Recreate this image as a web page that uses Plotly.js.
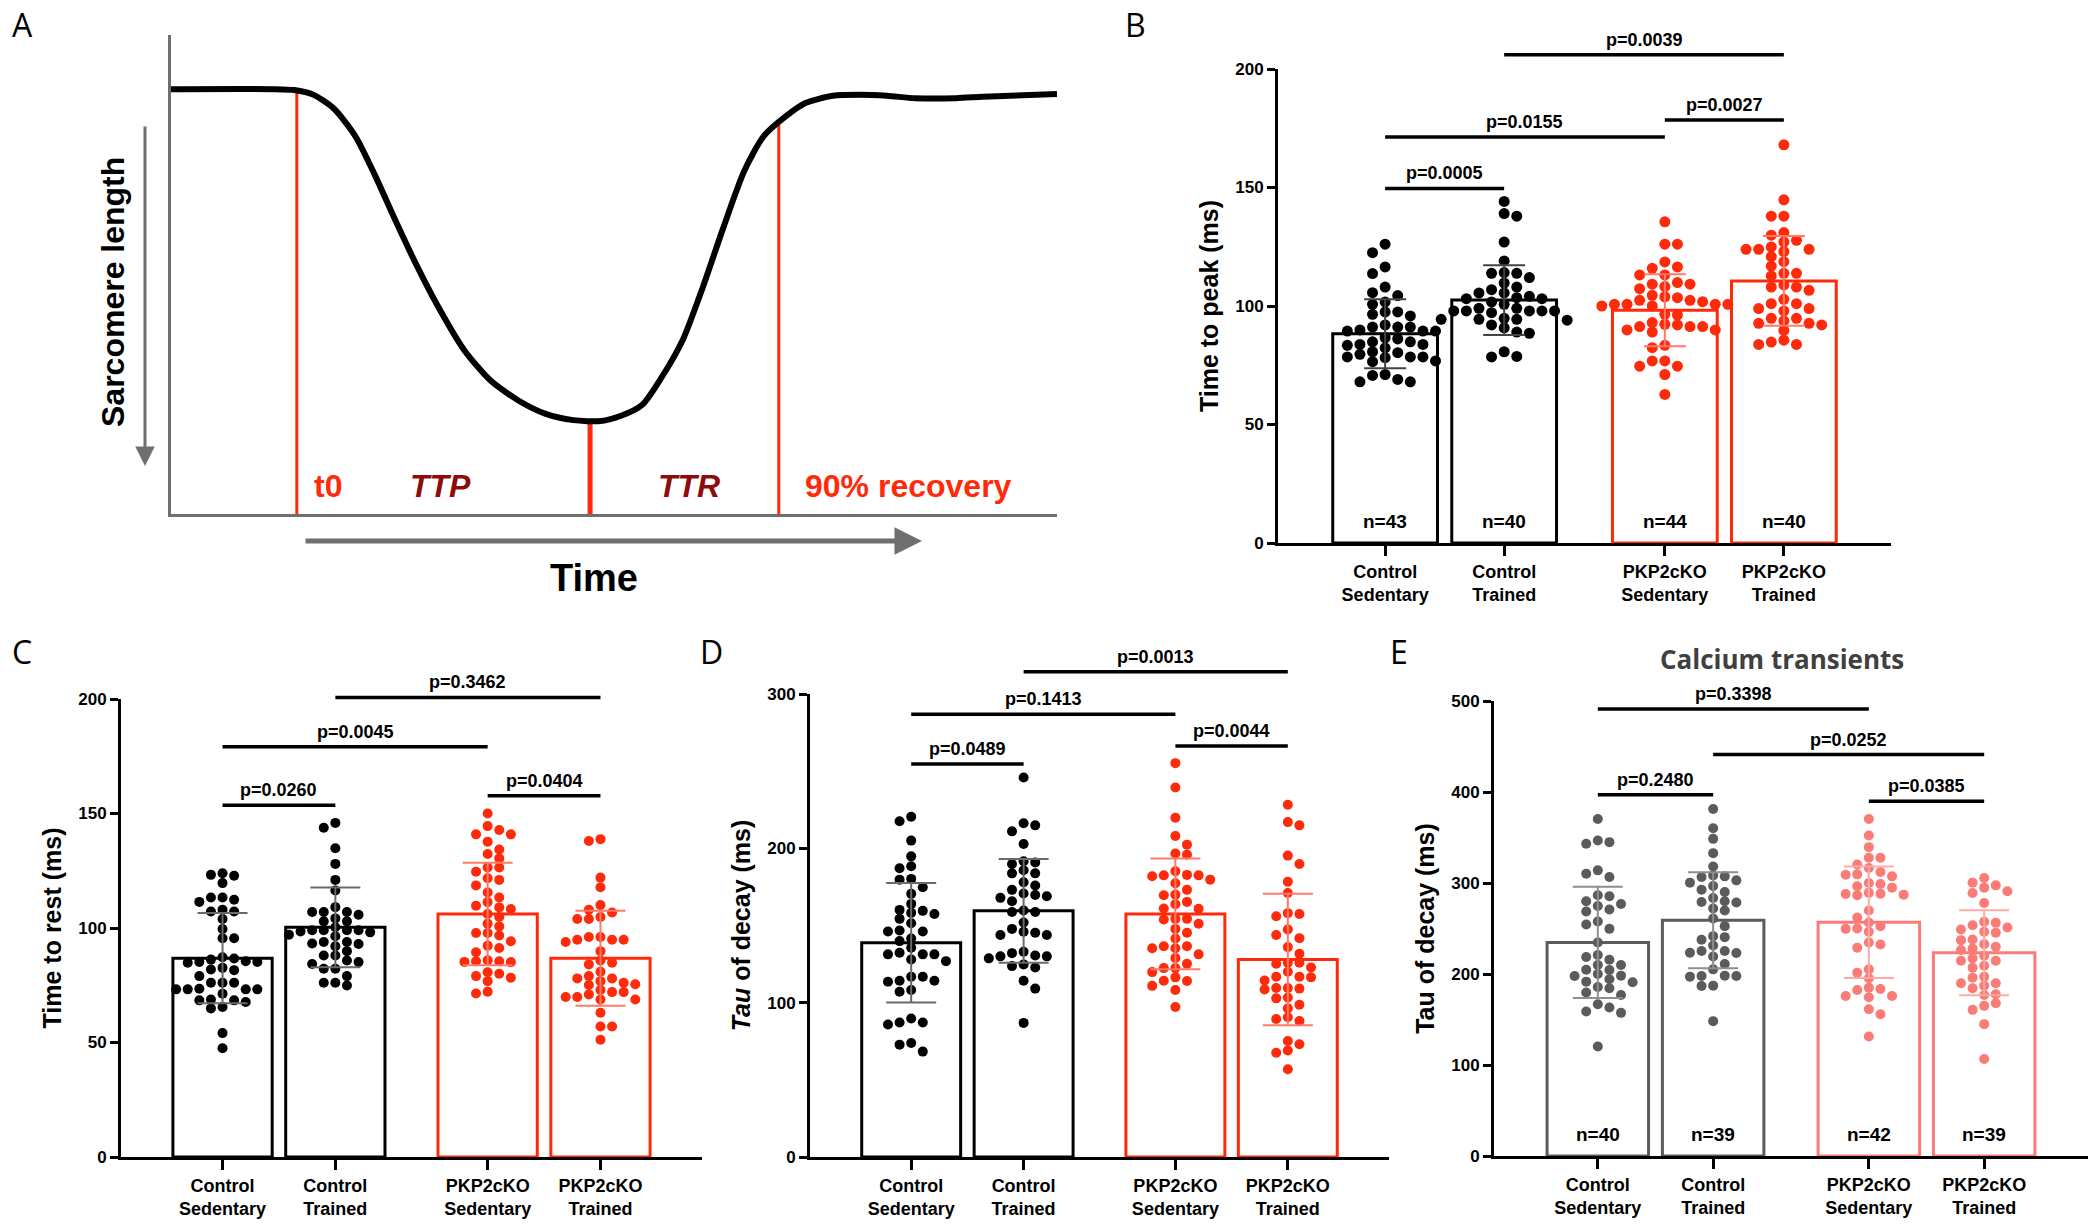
<!DOCTYPE html>
<html><head><meta charset="utf-8">
<script src="https://cdn.plot.ly/plotly-3.0.1.min.js"></script>
<style>html,body{margin:0;padding:0;background:#fff;} #chart{width:2100px;height:1228px;}</style>
</head><body><div id="chart"></div>
<script>
// ================= DATA =================
const groupLabels = ['Control<br>Sedentary', 'Control<br>Trained', 'PKP2cKO<br>Sedentary', 'PKP2cKO<br>Trained'];
const groupPos = [0, 1, 2.35, 3.35];

// Panel A: schematic sarcomere-length trace (time %, length %)
const traceTime   = [0, 11.5, 13.9, 16.1, 18.4, 20.8, 23.0, 25.4, 27.7, 30.0, 33.1, 36.1, 39.3, 42.3, 45.4, 48.5, 50.8, 53.2, 55.4, 57.8, 60.0, 62.4, 64.7, 66.9, 69.3, 71.6, 74.7, 77.8, 80.8, 84.0, 88.6, 91.6, 94.7, 100];
const traceLength = [88.7, 88.7, 88.5, 87.5, 84.6, 78.9, 70.8, 61.0, 52.0, 43.8, 34.2, 27.8, 23.6, 20.9, 19.6, 19.4, 20.5, 22.8, 28.6, 36.5, 47.2, 60.1, 71.6, 78.9, 82.9, 85.8, 87.3, 87.5, 87.3, 86.8, 86.8, 87.1, 87.3, 87.7];
const eventTime = [14.2, 47.3, 68.6];
const eventTop  = [88.3, 19.4, 81.2];
const phaseLabels = ['t0', 'TTP', 'TTR', '90% recovery'];
const phaseTime   = [17.7, 30.4, 58.5, 83.2];

// Panel B: Time to peak (ms)
const ttpCtrlSed = [126.1,122.5,116.5,113.7,108.0,105.6,104.4,101.7,100.7,97.5,97.5,95.8,96.5,92.0,91.1,91.1,91.1,89.9,89.4,89.4,89.4,86.1,86.6,84.9,84.9,83.4,83.8,83.8,82.3,80.7,80.3,78.5,78.5,78.5,78.2,79.6,76.8,76.5,71.1,68.0,69.0,70.7,68.0];
const ttpCtrlTr  = [144.1,139.0,137.9,127.0,119.0,113.8,114.1,113.8,112.0,109.7,108.0,106.9,105.5,105.5,104.1,103.1,103.1,103.5,101.7,100.7,97.9,97.9,99.0,97.2,99.0,97.9,97.9,97.9,94.0,94.8,92.0,90.8,94.4,94.4,94.4,88.5,89.0,78.7,80.7,78.5];
const ttpKoSed   = [135.5,126.1,126.1,118.6,116.5,115.9,113.1,113.1,109.2,109.9,109.2,108.2,107.3,104.5,103.5,103.9,101.8,100.7,100.7,102.4,100.7,100.7,102.4,100.0,100.0,96.5,96.2,92.3,89.9,89.9,91.3,91.3,91.3,89.0,93.0,92.0,82.4,83.4,76.8,74.6,74.6,76.8,71.1,62.7];
const ttpKoTr    = [168.0,144.8,137.9,137.9,129.9,131.0,127.7,127.0,124.9,123.0,123.9,123.9,123.9,120.8,118.7,116.8,113.8,113.8,112.7,108.0,108.9,108.0,106.6,102.8,98.9,101.0,101.0,97.9,98.9,92.7,94.8,94.8,92.0,92.7,93.7,89.7,83.8,85.6,83.8,84.8];
const ttpMean = [88.3, 102.5, 98.2, 110.6];
const ttpSD   = [14.6, 14.7, 15.2, 18.9];
const ttpSigFrom = [0, 0, 2, 1];
const ttpSigTo   = [1, 2, 3, 3];
const ttpSigY    = [149.6, 171.3, 178.5, 206.0];
const ttpSigText = ['p=0.0005', 'p=0.0155', 'p=0.0027', 'p=0.0039'];

// Panel C: Time to rest (ms)
const ttrCtrlSed = [123.2,123.9,122.8,119.6,113.3,112.3,111.4,113.3,107.2,108.0,107.2,103.9,99.6,95.5,95.5,85.5,86.2,87.2,85.2,85.2,86.7,84.8,79.0,81.9,81.6,82.6,76.1,76.1,76.1,73.2,73.5,71.3,73.2,73.2,73.2,68.4,65.5,67.7,64.9,68.8,68.4,54.1,47.5];
const ttrCtrlTr  = [143.8,145.9,134.8,128.0,121.0,116.4,105.8,104.2,107.0,107.0,109.1,107.0,102.9,102.9,97.1,99.0,100.3,99.0,99.0,99.0,96.4,98.1,89.9,92.0,93.9,93.2,93.9,88.0,88.0,84.3,82.2,79.0,82.2,85.1,85.8,74.9,76.1,76.1,98.5,93.0];
const ttrKoSed   = [150.0,142.8,140.9,140.9,144.5,137.7,134.3,130.4,132.3,126.4,124.6,126.4,121.0,118.6,121.7,115.5,111.3,113.3,109.7,108.3,109.0,106.1,104.8,101.9,100.7,97.8,97.8,96.7,92.3,94.2,91.3,89.4,85.9,85.2,85.1,85.5,85.5,80.7,78.3,79.0,76.8,80.0,71.4,72.2];
const ttrKoTr    = [138.8,138.0,122.0,117.8,110.0,106.8,108.0,104.8,103.9,103.9,96.1,94.9,94.9,93.9,96.1,94.9,89.9,84.8,85.8,84.1,76.8,79.0,80.9,78.0,78.0,72.9,75.1,72.0,75.4,76.1,72.0,68.8,69.9,69.9,68.8,71.0,63.0,57.0,57.0,51.2];
const ttrMean = [86.8, 100.3, 106.1, 86.8];
const ttrSD   = [19.7, 17.4, 22.4, 20.7];
const ttrSigFrom = [0, 0, 2, 1];
const ttrSigTo   = [1, 2, 3, 3];
const ttrSigY    = [153.6, 179.1, 157.8, 200.7];
const ttrSigText = ['p=0.0260', 'p=0.0045', 'p=0.0404', 'p=0.3462'];

// Panel D: Tau of decay (ms), sarcomere
const tauCtrlSed = [217.5,220.5,205.0,194.8,188.4,187.1,180.2,179.7,174.8,170.5,164.0,159.5,160.1,157.5,158.2,151.5,154.3,146.8,146.1,146.1,139.9,141.6,131.3,132.3,135.6,131.3,131.3,126.9,128.0,114.2,114.2,116.8,116.8,113.6,107.1,108.2,89.7,87.1,85.8,87.1,73.9,72.8,68.3];
const tauCtrlTr  = [245.9,216.2,214.9,211.0,202.8,189.9,191.6,185.8,190.9,183.8,183.8,178.0,169.8,175.9,170.7,173.1,165.7,169.0,167.9,159.7,158.8,158.8,151.9,145.3,143.8,147.8,143.8,145.9,130.0,132.1,130.6,133.0,128.7,130.0,124.8,123.7,122.8,114.2,109.1,86.9];
const tauKoSed   = [255.2,239.4,219.8,208.0,202.4,195.9,196.6,182.5,179.7,181.9,182.8,185.1,182.5,169.6,173.1,170.0,177.4,161.0,163.8,160.8,165.3,154.3,151.1,154.3,153.9,145.3,147.8,135.3,141.6,135.3,136.6,136.6,131.3,128.9,125.2,122.4,119.8,116.4,122.4,114.2,110.9,108.2,114.0,97.2];
const tauKoTr    = [228.2,217.0,214.9,195.3,189.9,178.4,171.1,156.0,158.0,157.5,147.4,143.8,141.8,136.0,131.7,125.2,125.9,122.8,120.0,116.8,116.8,116.4,114.4,108.6,109.5,109.5,109.1,102.8,103.4,98.7,96.3,90.5,88.1,89.4,73.1,75.2,69.0,67.5,56.9,125.9];
const tauMean = [138.8, 159.5, 157.5, 128.0];
const tauSD   = [38.7, 33.6, 35.9, 42.6];
const tauSigFrom = [0, 0, 2, 1];
const tauSigTo   = [1, 2, 3, 3];
const tauSigY    = [254.6, 286.9, 266.3, 314.4];
const tauSigText = ['p=0.0489', 'p=0.1413', 'p=0.0044', 'p=0.0013'];

// Panel E: Calcium transients, Tau of decay (ms)
const caCtrlSed = [370.4,343.1,344.9,346.7,310.2,306.6,313.9,277.0,285.4,286.5,279.9,270.8,274.8,268.6,257.7,249.6,254.4,234.7,209.9,215.7,220.8,218.6,209.9,200.0,197.8,204.4,204.7,198.2,194.2,184.3,190.9,191.6,185.8,179.6,177.0,166.8,158.8,157.3,163.1,120.4];
const caCtrlTr  = [381.4,360.2,348.5,332.8,318.2,306.6,300.4,308.4,307.3,302.9,292.7,296.7,290.1,279.9,283.6,278.5,279.2,269.7,271.9,260.9,252.6,241.6,240.5,225.2,225.2,223.4,231.4,237.6,219.3,223.0,211.0,205.1,197.1,197.8,197.8,198.2,186.9,187.2,148.2];
const caKoSed   = [370.4,352.2,339.4,327.7,327.7,316.4,320.4,309.1,312.0,309.5,296.4,307.3,294.9,300.0,298.9,288.0,287.2,288.3,286.5,289.4,269.7,262.0,250.0,252.6,246.4,249.6,256.6,228.8,234.7,232.5,205.1,195.3,201.5,185.0,183.6,174.5,182.5,175.9,175.9,161.3,155.8,131.4];
const caKoTr    = [297.4,300.4,305.5,290.9,289.1,294.9,278.1,257.3,256.2,248.9,253.6,251.1,246.4,245.3,238.0,237.2,232.8,229.9,226.3,228.1,217.2,220.1,214.6,214.6,209.1,206.9,197.1,189.8,196.0,189.8,187.2,184.3,177.7,177.0,165.0,167.9,160.6,144.9,106.6];
const caMean = [234.7, 259.1, 256.9, 223.4];
const caSD   = [61.1, 52.8, 61.2, 46.7];
const caSigFrom = [0, 1, 0, 2];
const caSigTo   = [2, 3, 1, 3];
const caSigY    = [491.1, 441.2, 396.9, 389.7];
const caSigText = ['p=0.3398', 'p=0.0252', 'p=0.2480', 'p=0.0385'];

// ================= LAYOUT / DRAWING =================
const W = 2100, H = 1228;
const px = x => x / W, py = y => 1 - y / H;
const FONT = 'Liberation Sans, Arial, sans-serif';
const traces = [], shapes = [], annotations = [];
const layout = {
  width: W, height: H, margin: {l: 0, r: 0, t: 0, b: 0},
  paper_bgcolor: '#fff', plot_bgcolor: 'rgba(0,0,0,0)', showlegend: false,
  font: {family: FONT, color: '#000'}, shapes: shapes, annotations: annotations, hovermode: false
};
function paperText(x, y, text, font, extra) {
  annotations.push(Object.assign({xref: 'paper', yref: 'paper', x: px(x), y: py(y), xanchor: 'center', yanchor: 'middle',
    showarrow: false, text: text, font: font}, extra || {}));
}

// ---- Panel A ----
const AX = {l: 171, r: 1057, t: 35, b: 514};
layout.xaxis = {domain: [px(AX.l), px(AX.r)], range: [0, 100], showline: true, linecolor: '#6f6f6f', linewidth: 3,
  ticks: '', showticklabels: false, showgrid: false, zeroline: false, anchor: 'y', fixedrange: true};
layout.yaxis = {domain: [py(AX.b), py(AX.t)], range: [0, 100], showline: true, linecolor: '#6f6f6f', linewidth: 3,
  ticks: '', showticklabels: false, showgrid: false, zeroline: false, anchor: 'x', fixedrange: true};
eventTime.forEach((t, i) => traces.push({type: 'scatter', mode: 'lines', x: [t, t], y: [0, eventTop[i]],
  line: {color: '#ff2a0a', width: i === 1 ? 5 : 3}, xaxis: 'x', yaxis: 'y', hoverinfo: 'skip'}));
traces.push({type: 'scatter', mode: 'lines', x: traceTime, y: traceLength,
  line: {color: '#000', width: 6, shape: 'spline', smoothing: 0.7}, xaxis: 'x', yaxis: 'y', hoverinfo: 'skip'});
const phaseColor = ['#ff2a0a', '#8e0b0b', '#8e0b0b', '#ff2a0a'];
phaseLabels.forEach((lab, i) => annotations.push({xref: 'x', yref: 'y', x: phaseTime[i], y: 5.8,
  xanchor: 'center', yanchor: 'middle', showarrow: false,
  text: (i === 1 || i === 2) ? '<i>' + lab + '</i>' : lab,
  font: {family: FONT, size: 32, weight: 'bold', color: phaseColor[i]}}));
paperText(113, 292, 'Sarcomere length', {family: FONT, size: 32, weight: 'bold', color: '#000'}, {textangle: -90});
paperText(594, 578, 'Time', {family: FONT, size: 38, weight: 'bold', color: '#000'});
annotations.push({xref: 'paper', yref: 'paper', x: px(145), y: py(466), ax: 0, ay: -341, axref: 'pixel', ayref: 'pixel',
  showarrow: true, arrowhead: 2, arrowsize: 1.3, arrowwidth: 3, arrowcolor: '#6f6f6f', text: ''});
annotations.push({xref: 'paper', yref: 'paper', x: px(922), y: py(541), ax: -618, ay: 0, axref: 'pixel', ayref: 'pixel',
  showarrow: true, arrowhead: 2, arrowsize: 1.1, arrowwidth: 5, arrowcolor: '#6f6f6f', text: ''});

// ---- Beeswarm layout helper (pixel-based placement) ----
function swarm(values, center, pxPerX, pxPerY, spacing) {
  const order = values.map((v, i) => i).sort((a, b) => values[b] - values[a]);
  const placed = [];
  const out = new Array(values.length);
  const step = spacing / 2;
  order.forEach((i, k) => {
    const ypx = values[i] * pxPerY;
    const sign = (k % 2 === 0) ? 1 : -1;
    let chosen = 0;
    for (let j = 0; j < 60; j++) {
      const cands = j === 0 ? [0] : [sign * j * step, -sign * j * step];
      let found = null;
      for (const c of cands) {
        let ok = true;
        for (const p of placed) {
          if (Math.abs(p.x - c) < spacing - 0.01 && Math.abs(p.y - ypx) < spacing * 0.75) { ok = false; break; }
        }
        if (ok) { found = c; break; }
      }
      if (found !== null) { chosen = found; break; }
    }
    placed.push({x: chosen, y: ypx});
    out[i] = center + chosen / pxPerX;
  });
  return out;
}

// ---- Bar panels ----
const XRANGE = [-0.9, 4.25];
const panels = [
  {n: 2, xL: 1278, xR: 1891, y0: 543, yTopPx: 69, yMax: 200, dtick: 50, domTop: 15,
   title: 'Time to peak (ms)', data: [ttpCtrlSed, ttpCtrlTr, ttpKoSed, ttpKoTr], mean: ttpMean, sd: ttpSD,
   sig: [ttpSigFrom, ttpSigTo, ttpSigY, ttpSigText], showN: true, dot: 11, cap: 21,
   colors: ['#000000', '#000000', '#ff2a0a', '#ff2a0a'], errColors: ['#444444', '#444444', '#ff7a68', '#ff7a68']},
  {n: 3, xL: 121, xR: 702, y0: 1157, yTopPx: 699, yMax: 200, dtick: 50, domTop: 655,
   title: 'Time to rest (ms)', data: [ttrCtrlSed, ttrCtrlTr, ttrKoSed, ttrKoTr], mean: ttrMean, sd: ttrSD,
   sig: [ttrSigFrom, ttrSigTo, ttrSigY, ttrSigText], showN: false, dot: 10, cap: 25,
   colors: ['#000000', '#000000', '#ff2a0a', '#ff2a0a'], errColors: ['#6a6a6a', '#6a6a6a', '#ff7a68', '#ff7a68']},
  {n: 4, xL: 810, xR: 1389, y0: 1157, yTopPx: 694, yMax: 300, dtick: 100, domTop: 640,
   title: '<i>Tau</i> of decay (ms)', data: [tauCtrlSed, tauCtrlTr, tauKoSed, tauKoTr], mean: tauMean, sd: tauSD,
   sig: [tauSigFrom, tauSigTo, tauSigY, tauSigText], showN: false, dot: 10, cap: 25,
   colors: ['#000000', '#000000', '#ff2a0a', '#ff2a0a'], errColors: ['#6a6a6a', '#6a6a6a', '#ff7a68', '#ff7a68']},
  {n: 5, xL: 1494, xR: 2088, y0: 1156, yTopPx: 701, yMax: 500, dtick: 100, domTop: 675,
   title: 'Tau of decay (ms)', data: [caCtrlSed, caCtrlTr, caKoSed, caKoTr], mean: caMean, sd: caSD,
   sig: [caSigFrom, caSigTo, caSigY, caSigText], showN: true, dot: 10, cap: 25,
   colors: ['#5b5b5b', '#5b5b5b', '#fb7b76', '#fb7b76'], errColors: ['#8e8e8e', '#8e8e8e', '#ffaaa5', '#ffaaa5']}
];

panels.forEach(p => {
  const xa = 'x' + p.n, ya = 'y' + p.n, yo = 'y' + (p.n + 4);
  const pxPerX = (p.xR - p.xL) / (XRANGE[1] - XRANGE[0]);
  const pxPerY = (p.y0 - p.yTopPx) / p.yMax;
  const yRangeTop = p.yMax * (p.y0 - p.domTop) / (p.y0 - p.yTopPx);
  const tv = [];
  for (let v = 0; v <= p.yMax + 1e-9; v += p.dtick) tv.push(v);
  layout['xaxis' + p.n] = {domain: [px(p.xL), px(p.xR)], range: XRANGE, anchor: ya,
    showline: true, linecolor: '#000', linewidth: 3, ticks: 'outside', ticklen: 10, tickwidth: 3, tickcolor: '#000',
    tickvals: groupPos, ticktext: groupLabels, tickfont: {family: FONT, size: 18, weight: 'bold', color: '#000'},
    showgrid: false, zeroline: false, fixedrange: true};
  // main value axis: 0 .. top tick
  layout['yaxis' + p.n] = {domain: [py(p.y0), py(p.yTopPx)], range: [0, p.yMax], anchor: xa,
    showline: true, linecolor: '#000', linewidth: 3, ticks: 'outside', ticklen: 8, tickwidth: 3, tickcolor: '#000', tickvals: tv,
    tickfont: {family: FONT, size: 17, weight: 'bold', color: '#000'},
    showgrid: false, zeroline: false, fixedrange: true,
    title: {text: p.title, standoff: 10, font: {family: FONT, size: 25, weight: 'bold', color: '#000'}}};
  // hidden companion axis with identical scale, extended upward for the comparison brackets
  layout['yaxis' + (p.n + 4)] = {domain: [py(p.y0), py(p.domTop)], range: [0, yRangeTop], anchor: xa,
    visible: false, showgrid: false, zeroline: false, fixedrange: true};
  // bars (mean)
  traces.push({type: 'bar', x: groupPos, y: p.mean, width: 0.88, xaxis: xa, yaxis: ya,
    marker: {color: '#ffffff', line: {color: p.colors, width: 3}}, hoverinfo: 'skip'});
  // dots
  p.data.forEach((vals, g) => {
    traces.push({type: 'scatter', mode: 'markers', xaxis: xa, yaxis: ya, cliponaxis: false,
      x: swarm(vals, groupPos[g], pxPerX, pxPerY, p.dot + 1.6), y: vals,
      marker: {size: p.dot, color: p.colors[g], line: {width: 0}}, hoverinfo: 'skip'});
  });
  // error bars (SD)
  p.mean.forEach((m, g) => {
    traces.push({type: 'scatter', mode: 'markers', xaxis: xa, yaxis: ya, x: [groupPos[g]], y: [m],
      marker: {size: 1, color: 'rgba(0,0,0,0)'}, hoverinfo: 'skip',
      error_y: {type: 'data', array: [p.sd[g]], visible: true, color: p.errColors[g], thickness: 2, width: p.cap}});
  });
  // significance brackets
  const [sf, st, sy, stxt] = p.sig;
  sf.forEach((f, i) => {
    const x0 = groupPos[f], x1 = groupPos[st[i]];
    traces.push({type: 'scatter', mode: 'lines', xaxis: xa, yaxis: yo, x: [x0, x1], y: [sy[i], sy[i]],
      line: {color: '#000', width: 3.5}, hoverinfo: 'skip'});
    annotations.push({xref: xa, yref: yo, x: (x0 + x1) / 2, y: sy[i], xanchor: 'center', yanchor: 'bottom', yshift: 3,
      showarrow: false, text: stxt[i], font: {family: FONT, size: 18, weight: 'bold', color: '#000'}});
  });
  // n labels
  if (p.showN) {
    p.data.forEach((vals, g) => annotations.push({xref: xa, yref: ya, x: groupPos[g], y: 0, xanchor: 'center',
      yanchor: 'bottom', yshift: 9, showarrow: false, text: 'n=' + vals.length,
      font: {family: FONT, size: 19, weight: 'bold', color: '#000'}}));
  }
});

// Panel E heading
paperText(1782, 659, 'Calcium transients', {family: 'Open Sans, sans-serif', size: 26, weight: 'bold', color: '#404040'});

// Panel letters
const letters = ['A', 'B', 'C', 'D', 'E'];
const letterX = [22, 1135, 22, 711, 1399];
const letterY = [24, 24, 651, 651, 651];
letters.forEach((L, i) => paperText(letterX[i], letterY[i], L, {family: 'Open Sans, sans-serif', size: 32, color: '#000'}));

Plotly.newPlot('chart', traces, layout, {staticPlot: true, displayModeBar: false});
</script>
</body></html>
